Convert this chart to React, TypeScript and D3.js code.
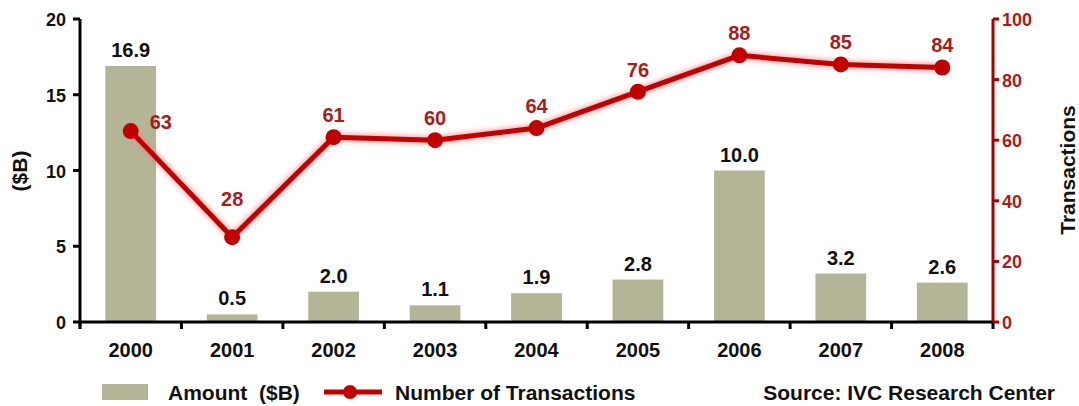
import React from "react";
import * as d3 from "d3";

const years = ["2000", "2001", "2002", "2003", "2004", "2005", "2006", "2007", "2008"];
const amounts = [16.9, 0.5, 2.0, 1.1, 1.9, 2.8, 10.0, 3.2, 2.6];
const transactions = [63, 28, 61, 60, 64, 76, 88, 85, 84];
const leftTicks = [0, 5, 10, 15, 20];
const rightTicks = [0, 20, 40, 60, 80, 100];

const W = 1079;
const H = 406;
const FONT = "'Liberation Sans', Arial, sans-serif";
const BAR = "#b4b497";
const LINE = "#c00000";
const RED_TEXT = "#a81c1c";
const AXIS_RED = "#a40000";

export default function App() {
  const x = d3.scaleBand<string>().domain(years).range([80, 993]).paddingInner(0.5).paddingOuter(0.25);
  const yL = d3.scaleLinear().domain([0, 20]).range([322, 19]);
  const yR = d3.scaleLinear().domain([0, 100]).range([322, 19]);
  const step = x.step();
  const cx = (y: string) => (x(y) as number) + x.bandwidth() / 2;
  const line = d3.line<number>().x((_, i) => cx(years[i])).y((d) => yR(d));
  const boundaries = d3.range(years.length + 1).map((i) => 80 + i * step);

  return (
    <svg width={W} height={H} style={{ position: "absolute", left: 0, top: 0 }} fontFamily={FONT}>
      <defs>
        <filter id="glow" x="-10%" y="-30%" width="120%" height="160%">
          <feGaussianBlur stdDeviation="2.5" />
        </filter>
      </defs>
      <rect width={W} height={H} fill="#fff" />
      {/* bars */}
      {amounts.map((v, i) => (
        <g key={years[i]}>
          <rect x={x(years[i])} y={yL(v)} width={x.bandwidth()} height={yL(0) - yL(v)} fill={BAR} />
          <text x={cx(years[i])} y={yL(v) - 9} textAnchor="middle" fontSize={20} fontWeight="bold" fill="#111">
            {v.toFixed(1)}
          </text>
        </g>
      ))}
      {/* left axis */}
      <line x1={80} x2={80} y1={19} y2={326} stroke="#000" strokeWidth={3} />
      {leftTicks.map((t) => (
        <g key={t}>
          <line x1={73} x2={80} y1={yL(t)} y2={yL(t)} stroke="#000" strokeWidth={3} />
          <text x={66} y={yL(t) + 7} textAnchor="end" fontSize={18} fontWeight="bold" fill="#111">
            {t}
          </text>
        </g>
      ))}
      <text transform={`translate(27,171) rotate(-90)`} textAnchor="middle" fontSize={21} fontWeight="bold" fill="#111">
        ($B)
      </text>
      {/* x axis */}
      <line x1={79} x2={994} y1={322} y2={322} stroke="#000" strokeWidth={3} />
      {boundaries.map((b, i) => (
        <line key={i} x1={b} x2={b} y1={322} y2={329} stroke="#000" strokeWidth={3} />
      ))}
      {years.map((y) => (
        <text key={y} x={cx(y)} y={357} textAnchor="middle" fontSize={20} fontWeight="bold" fill="#111">
          {y}
        </text>
      ))}
      {/* right axis */}
      <line x1={993} x2={993} y1={19} y2={322} stroke={AXIS_RED} strokeWidth={3} />
      {rightTicks.map((t) => (
        <g key={t}>
          <line x1={993} x2={999} y1={yR(t)} y2={yR(t)} stroke={AXIS_RED} strokeWidth={3} />
          <text x={1002} y={yR(t) + 7} textAnchor="start" fontSize={18} fontWeight="bold" fill={RED_TEXT}>
            {t}
          </text>
        </g>
      ))}
      <text transform={`translate(1075,170) rotate(-90)`} textAnchor="middle" fontSize={21} fontWeight="bold" fill="#111">
        Transactions
      </text>
      {/* line */}
      <path d={line(transactions) || ""} fill="none" stroke="#f08080" strokeOpacity={0.7} strokeWidth={8} filter="url(#glow)" />
      <path d={line(transactions) || ""} fill="none" stroke={LINE} strokeWidth={5} strokeLinejoin="round" />
      {transactions.map((v, i) => (
        <circle key={i} cx={cx(years[i])} cy={yR(v)} r={8} fill={LINE} />
      ))}
      {transactions.map((v, i) => {
        let dx = 0;
        let dy = -15;
        let anchor = "middle";
        if (i === 0) {
          dx = 19;
          dy = -2;
          anchor = "start";
        } else if (i === 1) {
          dy = -31;
        }
        return (
          <text key={i} x={cx(years[i]) + dx} y={yR(v) + dy} textAnchor={anchor} fontSize={20} fontWeight="bold" fill={RED_TEXT}>
            {v}
          </text>
        );
      })}
      {/* legend */}
      <rect x={102} y={384} width={46} height={16} fill={BAR} />
      <text x={168} y={400} fontSize={21} fontWeight="bold" fill="#111" style={{ whiteSpace: "pre" }}>
        {"Amount  ($B)"}
      </text>
      <line x1={324} x2={382} y1={392} y2={392} stroke={LINE} strokeWidth={5} />
      <circle cx={350} cy={392} r={7} fill={LINE} />
      <text x={395} y={400} fontSize={21} fontWeight="bold" fill="#111">
        Number of Transactions
      </text>
      <text x={1055} y={400} textAnchor="end" fontSize={21} fontWeight="bold" fill="#111">
        Source: IVC Research Center
      </text>
    </svg>
  );
}
